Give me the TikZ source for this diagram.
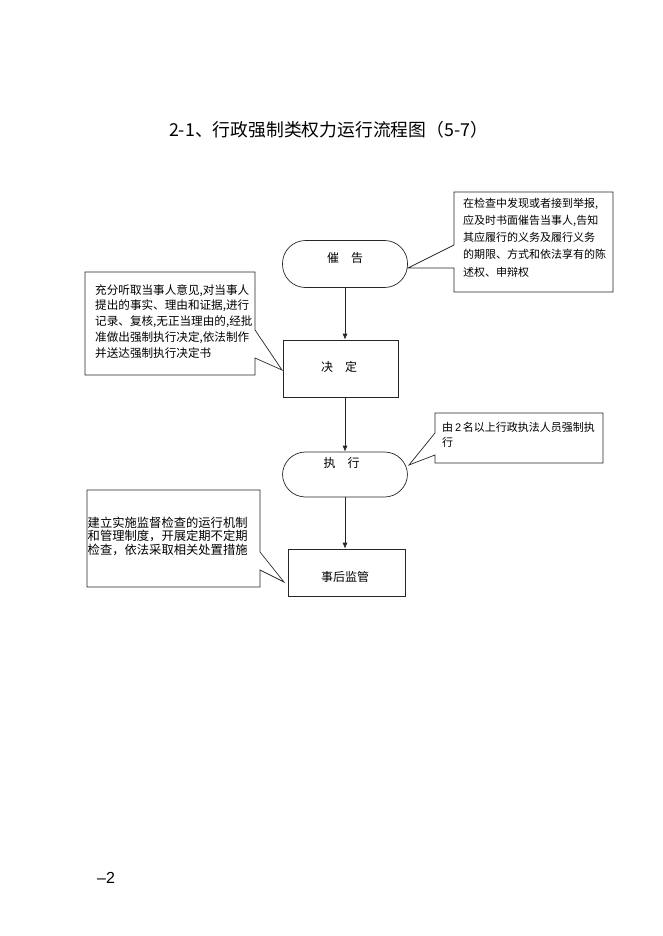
\documentclass[tikz,border=0pt]{standalone}
\usepackage{fontspec}
\setmainfont{Noto Sans CJK SC}
\newfontfamily\arialf{Liberation Sans}
\usetikzlibrary{arrows.meta}
\begin{document}
\begin{tikzpicture}[x=1pt,y=-1pt,
  ln/.style={line width=0.7pt,draw=black!85},
  stad/.style={ln,rounded corners=23pt,minimum width=125pt,minimum height=47pt,inner sep=0pt},
  boxn/.style={ln,minimum width=115pt,minimum height=56pt,inner sep=0pt},
  lbl/.style={font=\fontsize{12}{14}\selectfont,inner sep=0pt},
  note/.style={inner sep=0pt,align=left,anchor=north west},
  arr/.style={ln,-{Latex[length=6pt,width=5pt]}}
]
\useasboundingbox (0,0) rectangle (662,936);
\fill[white] (0,0) rectangle (662,936);

\node[font=\fontsize{17.8}{21}\selectfont,inner sep=0pt] (title) at (328.5,130) {2-1、行政强制类权力运行流程图（5-7）};

% main flow
\node[stad] (cuigao) at (345,264) {};
\node[lbl] (cuigaot) at (345,258) {催\hspace{1em}告};
\node[boxn,minimum width=115pt,minimum height=57pt] (jueding) at (340.5,368.5) {};
\node[lbl] (juedingt) at (339,367) {决\hspace{1em}定};
\node[stad,minimum height=45pt] (zhixing) at (345,474.5) {};
\node[lbl] (zhixingt) at (341.5,463) {执\hspace{1em}行};
\node[boxn,minimum width=117pt,minimum height=47pt] (shihou) at (346.5,572.5) {};
\node[lbl] (shihout) at (345,577) {事后监管};

\draw[arr] (cuigao.south) -- (cuigao.south |- jueding.north);
\draw[arr] (jueding.south -| cuigao.south) -- (zhixing.north);
\draw[arr] (zhixing.south) -- (zhixing.south |- shihou.north);

% callout 1 (top right)
\draw[ln] (408,268) -- (454,245) -- (454,192) -- (613,192) -- (613,292) -- (454,292) -- (454,268) -- cycle;
\node[note,font=\fontsize{11}{17.25}\selectfont] (n1) at (463,197.5) {在检查中发现或者接到举报,\\应及时书面催告当事人,告知\\其应履行的义务及履行义务\\的期限、方式和依法享有的陈\\述权、申辩权};

% callout 2 (left)
\draw[ln] (282,370) -- (255,358) -- (255,375) -- (85,375) -- (85,272) -- (255,272) -- (255,330) -- cycle;
\node[note,font=\fontsize{11.6}{15.8}\selectfont] (n2) at (95,284) {充分听取当事人意见,对当事人\\提出的事实、理由和证据,进行\\记录、复核,无正当理由的,经批\\准做出强制执行决定,依法制作\\并送达强制执行决定书};

% callout 3 (right)
\draw[ln] (409,465) -- (435,455) -- (435,463) -- (603,463) -- (603,413) -- (435,413) -- (435,433) -- cycle;
\node[note,font=\fontsize{11}{15}\selectfont] (n3) at (442,422.5) {由{\arialf\,2\,}名以上行政执法人员强制执\\行};

% callout 4 (left bottom)
\draw[ln] (284,582) -- (260,570) -- (260,587) -- (87,587) -- (87,490) -- (260,490) -- (260,552) -- cycle;
\node[note,font=\fontsize{12.3}{13.3}\selectfont] (n4) at (87.5,517) {建立实施监督检查的运行机制\\和管理制度，开展定期不定期\\检查，依法采取相关处置措施};

\node[font=\arialf\fontsize{16}{18}\selectfont,inner sep=0pt,anchor=west] (page) at (97,878) {–2};
\end{tikzpicture}
\end{document}
